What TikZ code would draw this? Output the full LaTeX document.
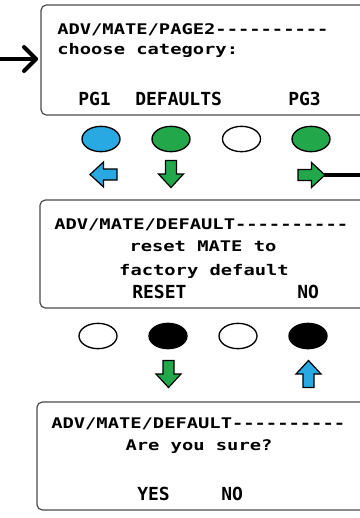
\documentclass[tikz,border=0pt]{standalone}
\usepackage{fontspec}
\usetikzlibrary{shapes.geometric}
\newfontfamily\lcdfont[FakeStretch=1.28]{DejaVu Sans Mono}
\newfontfamily\lblfont{DejaVu Sans Mono}
\definecolor{lcdblue}{HTML}{29A9E1}
\definecolor{lcdgreen}{HTML}{22A84B}
\definecolor{frame}{HTML}{4A4A4A}
\newcommand\fatarrow[4]{%
  \draw[line width=0.9pt,fill=#4,line join=miter,shift={(#1,#2)},rotate=#3]
    (-13.5,-5.5) -- (0,-5.5) -- (0,-12.5) -- (13.5,0) -- (0,12.5) -- (0,5.5) -- (-13.5,5.5) -- cycle;}
\tikzset{
  screen/.style={draw=frame,line width=0.9pt,rounded corners=4pt,inner sep=0pt},
  lcdtxt/.style={inner sep=0pt,font=\lcdfont\bfseries\fontsize{11}{13}\selectfont},
  lbltxt/.style={inner sep=0pt,anchor=base west,font=\lblfont\bfseries\fontsize{13.5}{15}\selectfont},
  btn/.style={ellipse,draw=black,line width=1pt,minimum width=28.5pt,minimum height=19pt,inner sep=0pt},
  thickline/.style={line width=3pt,line cap=round,line join=round}
}
\begin{document}
\begin{tikzpicture}[x=0.75pt,y=-0.75pt]
\clip (0,0) rectangle (360,518);
\fill[white] (0,0) rectangle (360,518);
% screens
\node[screen,minimum width=243.75pt,minimum height=82.5pt] (box1) at (203.5,60) {};
\node[screen,minimum width=244.5pt,minimum height=81pt] (box2) at (203,254) {};
\node[screen,minimum width=246.75pt,minimum height=81pt] (box3) at (201.5,456) {};
% box 1 text
\node[lcdtxt,anchor=base west] (t11) at (57,34) {ADV/MATE/PAGE2----------};
\node[lcdtxt,anchor=base west] (t12) at (57,54) {choose category:};
\node[lbltxt] (pg1) at (78,105) {PG1};
\node[lbltxt] (defs) at (135,105) {DEFAULTS};
\node[lbltxt] (pg3) at (288,105) {PG3};
% box 2 text
\node[lcdtxt,anchor=base west] (t21) at (54,229) {ADV/MATE/DEFAULT----------};
\node[lcdtxt,anchor=base] (t22) at (203,251) {reset MATE to};
\node[lcdtxt,anchor=base] (t23) at (204,275) {factory default};
\node[lbltxt] (reset) at (132,298) {RESET};
\node[lbltxt] (no2) at (297,298) {NO};
% box 3 text
\node[lcdtxt,anchor=base west] (t31) at (51,428) {ADV/MATE/DEFAULT----------};
\node[lcdtxt,anchor=base] (t32) at (199,450) {Are you sure?};
\node[lbltxt] (yes) at (137,500) {YES};
\node[lbltxt] (no3) at (221,500) {NO};
% buttons row 1
\node[btn,fill=lcdblue] (b11) at (101,139) {};
\node[btn,fill=lcdgreen] (b12) at (171,139) {};
\node[btn,fill=white] (b13) at (241.5,139) {};
\node[btn,fill=lcdgreen] (b14) at (311,139) {};
% buttons row 2
\node[btn,fill=white] (b21) at (98,336) {};
\node[btn,fill=black] (b22) at (168,336) {};
\node[btn,fill=white] (b23) at (238,336) {};
\node[btn,fill=black] (b24) at (308,336) {};
% fat arrows
\fatarrow{103.5}{174.5}{180}{lcdblue}
\fatarrow{171}{174}{-90}{lcdgreen}
\fatarrow{311.5}{175}{0}{lcdgreen}
\fatarrow{168.5}{374}{-90}{lcdgreen}
\fatarrow{308.5}{374}{90}{lcdblue}
% connectors
\coordinate (inL) at (-2,59);
\coordinate (tipL) at (36,59);
\coordinate (armA) at (24,47);
\coordinate (armB) at (24,71);
\draw[thickline] (inL) -- (tipL);
\draw[thickline] (armA) -- (tipL) -- (armB);
\coordinate (tipR) at (324,175);
\coordinate (outR) at (364,175);
\draw[line width=3pt] (tipR) -- (outR);
\end{tikzpicture}
\end{document}
